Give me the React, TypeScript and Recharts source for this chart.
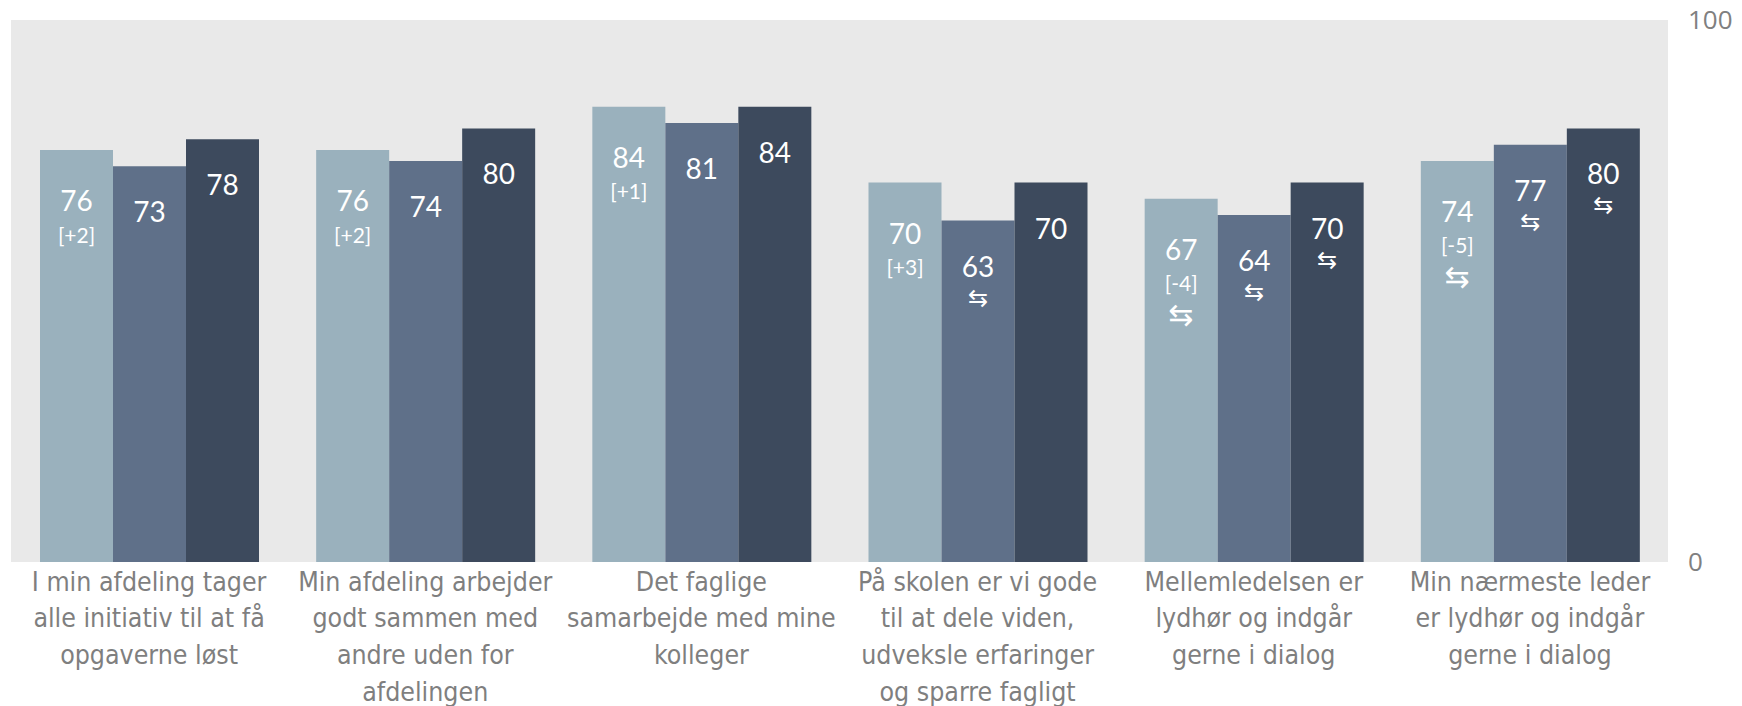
import React from 'react';
import { BarChart, Bar, XAxis, YAxis, CartesianGrid, LabelList } from 'recharts';

// category labels, one string per group, lines split on \n
const categories = [
  'I min afdeling tager\nalle initiativ til at få\nopgaverne løst',
  'Min afdeling arbejder\ngodt sammen med\nandre uden for\nafdelingen',
  'Det faglige\nsamarbejde med mine\nkolleger',
  'På skolen er vi gode\ntil at dele viden,\nudveksle erfaringer\nog sparre fagligt',
  'Mellemledelsen er\nlydhør og indgår\ngerne i dialog',
  'Min nærmeste leder\ner lydhør og indgår\ngerne i dialog',
];

const valuesA = [76, 76, 84, 70, 67, 74];
const valuesB = [73, 74, 81, 63, 64, 77];
const valuesC = [78, 80, 84, 70, 70, 80];

const changeA = ['[+2]', '[+2]', '[+1]', '[+3]', '[-4]', '[-5]'];
const arrowA = [false, false, false, false, true, true];
const arrowB = [false, false, false, true, true, true];
const arrowC = [false, false, false, false, true, true];

const yTicks = [0, 100];

const COLORS = ['#9ab1bd', '#5f7089', '#3d4a5d'];
const ARROW = '\u21C6';

const data = categories.map((name, i) => ({
  name,
  a: valuesA[i],
  b: valuesB[i],
  c: valuesC[i],
}));

const makeLabel = (first: boolean, changes: string[] | null, arrows: boolean[]) => (props: any) => {
  const { x, y, width, index, value } = props;
  const cx = Number(x) + Number(width) / 2;
  let cy = Number(y) + (first ? 50 : 45);
  const parts: React.ReactNode[] = [
    <text key="v" x={cx} y={cy} fill="#fff" fontSize={28} fontFamily="Lato, sans-serif"
      textAnchor="middle" dominantBaseline="central">{value}</text>,
  ];
  if (changes && changes[index]) {
    cy += 34;
    parts.push(
      <text key="c" x={cx} y={cy} fill="#fff" fontSize={21} fontFamily="Lato, sans-serif"
        textAnchor="middle" dominantBaseline="central">{changes[index]}</text>
    );
  }
  if (arrows[index]) {
    cy += 32;
    parts.push(
      <text key="a" x={cx} y={cy} fill="#fff" fontSize={first ? 30 : 24} fontFamily="DejaVu Sans, sans-serif"
        textAnchor="middle" dominantBaseline="central">{ARROW}</text>
    );
  }
  return <g>{parts}</g>;
};

const CategoryTick = (props: any) => {
  const { x, y, payload } = props;
  const lines = String(payload.value).split('\n');
  return (
    <g>
      {lines.map((line, i) => (
        <text key={i} x={x} y={y + 11 + i * 36.7} fill="#7f7f7f" fontSize={26.5}
          fontFamily="'Liberation Sans Narrow', 'DejaVu Sans Condensed', sans-serif"
          textAnchor="middle" dominantBaseline="central">{line}</text>
      ))}
    </g>
  );
};

export default function App() {
  return (
    <div style={{ position: 'absolute', left: 0, top: 0, width: 1742, height: 706, background: '#fff' }}>
      <BarChart width={1742} height={706} data={data}
        margin={{ top: 20, right: 0, bottom: 0, left: 11 }}
        barCategoryGap={29} barGap={0}>
        <CartesianGrid fill="#e9e9e9" stroke="none" horizontal={false} vertical={false} />
        <XAxis dataKey="name" axisLine={false} tickLine={false} height={144} interval={0} tick={<CategoryTick />} />
        <YAxis orientation="right" domain={[0, 100]} ticks={yTicks} width={74} axisLine={false} tickLine={false}
          tickSize={0} tickMargin={20}
          tick={{ fill: '#808080', fontSize: 26, fontFamily: "'Open Sans', sans-serif" }} />
        <Bar dataKey="a" fill={COLORS[0]} isAnimationActive={false}>
          <LabelList dataKey="a" content={makeLabel(true, changeA, arrowA)} />
        </Bar>
        <Bar dataKey="b" fill={COLORS[1]} isAnimationActive={false}>
          <LabelList dataKey="b" content={makeLabel(false, null, arrowB)} />
        </Bar>
        <Bar dataKey="c" fill={COLORS[2]} isAnimationActive={false}>
          <LabelList dataKey="c" content={makeLabel(false, null, arrowC)} />
        </Bar>
      </BarChart>
    </div>
  );
}
